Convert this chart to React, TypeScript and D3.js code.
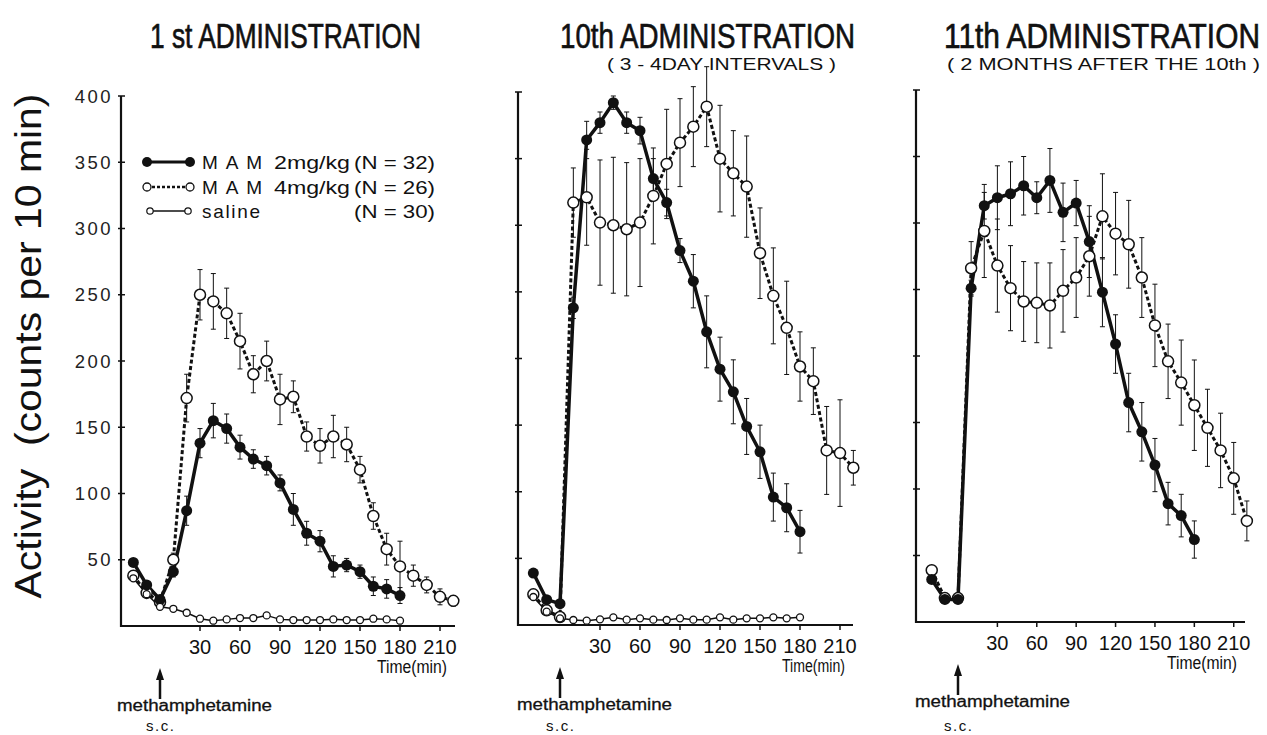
import * as d3 from 'd3';

// time points (min after injection), 10-min bins
const times21 = [-20, -10, 0, 10, 20, 30, 40, 50, 60, 70, 80, 90, 100, 110, 120, 130, 140, 150, 160, 170, 180];
const times25 = [-20, -10, 0, 10, 20, 30, 40, 50, 60, 70, 80, 90, 100, 110, 120, 130, 140, 150, 160, 170, 180, 190, 200, 210, 220];

const xTicks = [30, 60, 90, 120, 150, 180, 210];
const yTicks = [50, 100, 150, 200, 250, 300, 350, 400];

// 1st administration
const first2mg = [48, 31, 20, 41, 87, 138, 155, 149, 135, 126, 121, 108, 88, 70, 64, 45, 46, 41, 30, 28, 23];
const first2mgErr = [3, 3, 3, 4, 11, 11, 13, 11, 9, 7, 7, 6, 12, 9, 8, 8, 5, 5, 7, 7, 6];
const first4mg = [38, 25, 18, 50, 172, 250, 245, 236, 215, 190, 200, 171, 173, 143, 136, 143, 137, 118, 83, 58, 45, 38, 31, 22, 19];
const first4mgErr = [3, 3, 3, 5, 18, 19, 21, 19, 21, 14, 15, 19, 12, 11, 13, 16, 13, 10, 10, 12, 19, 8, 6, 6, 4];
const firstSaline = [36, 24, 14.5, 13, 10, 5.5, 4, 5, 6, 6, 8, 5, 4.5, 4.5, 4.5, 5, 4.5, 4.5, 5.5, 5, 4];

// 10th administration
const tenth2mg = [39, 19, 16, 238, 364, 377, 392, 377, 371, 335, 317, 281, 258, 220, 192, 175, 149, 130, 96, 88, 70];
const tenth2mgErr = [3, 3, 3, 8, 14, 8, 5, 8, 10, 15, 10, 9, 20, 27, 24, 24, 21, 20, 18, 18, 16];
const tenth4mg = [23, 11, 6, 317, 321, 302, 300, 297, 302, 322, 346, 362, 374, 389, 350, 339, 329, 279, 247, 223, 194, 183, 131, 129, 118];
const tenth4mgErr = [2, 2, 2, 26, 36, 47, 51, 50, 48, 36, 41, 33, 30, 30, 40, 32, 38, 34, 36, 35, 26, 25, 33, 40, 13];
const tenthSaline = [21, 10, 5, 3.75, 3.25, 4.25, 5.75, 4, 5, 4, 3.75, 5, 4, 4, 5.75, 4, 5, 5, 5.75, 5, 5.75];

// 11th administration
const eleventh2mg = [32, 17, 17, 251, 313, 319, 322, 328, 319, 332, 308, 315, 286, 248, 209, 165, 143, 118, 89, 80, 62];
const eleventh2mgErr = [2, 2, 2, 6, 10, 24, 24, 22, 12, 24, 22, 17, 27, 26, 22, 22, 22, 20, 16, 16, 14];
const eleventh4mg = [39, 18, 18, 266, 294, 268, 251, 241, 240, 238, 249, 259, 275, 305, 292, 284, 259, 223, 196, 180, 163, 146, 129, 108, 76];
const eleventh4mgErr = [2, 2, 2, 20, 35, 35, 32, 30, 30, 32, 31, 30, 30, 32, 31, 33, 30, 31, 28, 32, 34, 29, 28, 27, 15];

const legendNames = ['M A M', 'M A M', 'saline'];
const legendDoses = ['2mg/kg', '4mg/kg', ''];
const legendNs = ['(N = 32)', '(N = 26)', '(N = 30)'];

const panels = [
  {
    title: '1 st ADMINISTRATION', titleX: 150, titleW: 271, sub: '', subX: 0, subW: 0,
    x0: 160, k: 40 / 30, left: 121, right: 455, y0: 626, yTop: 96, showY: true, timeX: 377,
    s2: first2mg, e2: first2mgErr, s4: first4mg, e4: first4mgErr, sal: firstSaline,
  },
  {
    title: '10th ADMINISTRATION', titleX: 560, titleW: 295, sub: '( 3 - 4DAY  INTERVALS )', subX: 607, subW: 229,
    x0: 560, k: 40 / 30, left: 518, right: 853, y0: 625, yTop: 92, showY: false, timeX: 782,
    s2: tenth2mg, e2: tenth2mgErr, s4: tenth4mg, e4: tenth4mgErr, sal: tenthSaline,
  },
  {
    title: '11th ADMINISTRATION', titleX: 944, titleW: 316, sub: '( 2 MONTHS AFTER THE 10th )', subX: 947, subW: 313,
    x0: 958, k: 1.313, left: 916, right: 1245, y0: 622, yTop: 90, showY: false, timeX: 1167,
    s2: eleventh2mg, e2: eleventh2mgErr, s4: eleventh4mg, e4: eleventh4mgErr, sal: null,
  },
];

const tickFont = '"Liberation Sans", Arial, sans-serif';
const narrow = '"Liberation Sans Narrow", "Liberation Sans", Arial, sans-serif';

function ErrorBars({ x, y, times, values, errs }) {
  return (
    <g stroke="#111" strokeWidth={1}>
      {values.map((v, i) => {
        const e = errs[i];
        if (e < 4) return null;
        const cx = x(times[i]);
        return (
          <g key={i}>
            <line x1={cx} x2={cx} y1={y(v - e)} y2={y(v + e)} />
            <line x1={cx - 2.5} x2={cx + 2.5} y1={y(v + e)} y2={y(v + e)} />
            <line x1={cx - 2.5} x2={cx + 2.5} y1={y(v - e)} y2={y(v - e)} />
          </g>
        );
      })}
    </g>
  );
}

function Panel({ p }) {
  const x = d3.scaleLinear().domain([0, 30]).range([p.x0, p.x0 + 30 * p.k]);
  const y = d3.scaleLinear().domain([0, 400]).range([p.y0, p.yTop]);
  const path = (times) => d3.line<number>().x((_, i) => x(times[i])).y((d) => y(d));

  return (
    <g>
      {/* condensed title: small font stretched vertically */}
      <g transform={`translate(${p.titleX},48) scale(1,1.32)`}>
        <text x={0} y={0} fontFamily={narrow} fontSize={26} stroke="#111" strokeWidth={0.5}
          textLength={p.titleW} lengthAdjust="spacingAndGlyphs" fill="#111">
          {p.title}
        </text>
      </g>
      {p.sub && (
        <text x={p.subX} y={70} fontFamily={narrow} fontSize={16} textLength={p.subW} lengthAdjust="spacingAndGlyphs" fill="#111">
          {p.sub}
        </text>
      )}

      {/* axes */}
      <line x1={p.left} x2={p.left} y1={p.yTop} y2={p.y0 + 1} stroke="#111" strokeWidth={2.2} />
      <line x1={p.left - 1} x2={p.right} y1={p.y0} y2={p.y0} stroke="#111" strokeWidth={2.2} />
      {yTicks.map((t) => (
        <g key={t}>
          <line x1={p.left - 3} x2={p.left + 4} y1={y(t)} y2={y(t)} stroke="#111" strokeWidth={1.5} />
          {p.showY && (
            <text x={113} y={y(t) + 6.5} textAnchor="end" fontFamily={tickFont} fontSize={18.5} letterSpacing={2.5} fill="#222">
              {t}
            </text>
          )}
        </g>
      ))}
      {xTicks.map((t) => (
        <g key={t}>
          <line x1={x(t)} x2={x(t)} y1={p.y0} y2={p.y0 + 5} stroke="#111" strokeWidth={1.5} />
          <text x={x(t)} y={p.y0 + 28} textAnchor="middle" fontFamily={tickFont} fontSize={20} fill="#111">
            {t}
          </text>
        </g>
      ))}
      <text x={p.timeX} y={p.y0 + 47} fontFamily={tickFont} fontSize={18} textLength={p.right - 8 - p.timeX} lengthAdjust="spacingAndGlyphs" fill="#111">
        Time(min)
      </text>

      {/* injection arrow */}
      <line x1={x(0)} x2={x(0)} y1={p.y0 + 50} y2={p.y0 + 73} stroke="#111" strokeWidth={2.5} />
      <path d={`M${x(0)},${p.y0 + 42} L${x(0) - 4},${p.y0 + 54} L${x(0) + 4},${p.y0 + 54} Z`} fill="#111" />
      <text x={x(0) - 43} y={p.y0 + 85} fontFamily={narrow} fontSize={16} stroke="#111" strokeWidth={0.3}
        textLength={155} lengthAdjust="spacingAndGlyphs" fill="#111">
        methamphetamine
      </text>
      <text x={x(0) - 14} y={731} fontFamily={tickFont} fontSize={15} letterSpacing={1.5} fill="#111">
        s.c.
      </text>

      {/* series */}
      <ErrorBars x={x} y={y} times={times25} values={p.s4} errs={p.e4} />
      <ErrorBars x={x} y={y} times={times21} values={p.s2} errs={p.e2} />
      <path d={path(times25)(p.s4)} fill="none" stroke="#111" strokeWidth={3} strokeDasharray="4 2.5" />
      <path d={path(times21)(p.s2)} fill="none" stroke="#111" strokeWidth={3.5} strokeLinejoin="round" />
      {p.sal && <path d={path(times21)(p.sal)} fill="none" stroke="#111" strokeWidth={1.5} />}
      {p.s4.map((v, i) => (
        <circle key={'o' + i} cx={x(times25[i])} cy={y(v)} r={5.5} fill="#fff" stroke="#111" strokeWidth={1.5} />
      ))}
      {p.s2.map((v, i) => (
        <circle key={'f' + i} cx={x(times21[i])} cy={y(v)} r={5.5} fill="#111" />
      ))}
      {p.sal &&
        p.sal.map((v, i) => (
          <circle key={'s' + i} cx={x(times21[i])} cy={y(v)} r={3.5} fill="#fff" stroke="#111" strokeWidth={1.3} />
        ))}
    </g>
  );
}

function Legend() {
  const rows = [162, 187, 211];
  return (
    <g fontFamily={tickFont} fontSize={19} fill="#111">
      {rows.map((ry, i) => (
        <g key={i}>
          {i === 0 && (
            <>
              <line x1={147} x2={190} y1={ry} y2={ry} stroke="#111" strokeWidth={3} />
              <circle cx={147} cy={ry} r={5} fill="#111" />
              <circle cx={190} cy={ry} r={5} fill="#111" />
            </>
          )}
          {i === 1 && (
            <>
              <line x1={147} x2={190} y1={ry} y2={ry} stroke="#111" strokeWidth={2.5} strokeDasharray="3 2" />
              <circle cx={147} cy={ry} r={4} fill="#fff" stroke="#111" strokeWidth={1.3} />
              <circle cx={190} cy={ry} r={4} fill="#fff" stroke="#111" strokeWidth={1.3} />
            </>
          )}
          {i === 2 && (
            <>
              <line x1={150} x2={188} y1={ry} y2={ry} stroke="#111" strokeWidth={1.5} />
              <circle cx={150} cy={ry} r={3.2} fill="#fff" stroke="#111" strokeWidth={1.2} />
              <circle cx={188} cy={ry} r={3.2} fill="#fff" stroke="#111" strokeWidth={1.2} />
            </>
          )}
          <text x={202} y={ry + 7} textLength={i < 2 ? 60 : 58} lengthAdjust="spacing">{legendNames[i]}</text>
          {legendDoses[i] && <text x={274} y={ry + 7} textLength={76} lengthAdjust="spacingAndGlyphs">{legendDoses[i]}</text>}
          <text x={354} y={ry + 7} textLength={81} lengthAdjust="spacingAndGlyphs">{legendNs[i]}</text>
        </g>
      ))}
    </g>
  );
}

export default function App() {
  return (
    <svg width={1267} height={735} style={{ position: 'absolute', left: 0, top: 0, background: '#fff' }}>
      <rect width={1267} height={735} fill="#fff" />
      <text
        transform="translate(41,346) rotate(-90)"
        textAnchor="middle"
        fontFamily={tickFont}
        fontSize={37}
        textLength={505}
        lengthAdjust="spacingAndGlyphs"
        fill="#111"
      >
        {'Activity\u00a0 (counts per 10 min)'}
      </text>
      {panels.map((p, i) => (
        <Panel key={i} p={p} />
      ))}
      <Legend />
    </svg>
  );
}
